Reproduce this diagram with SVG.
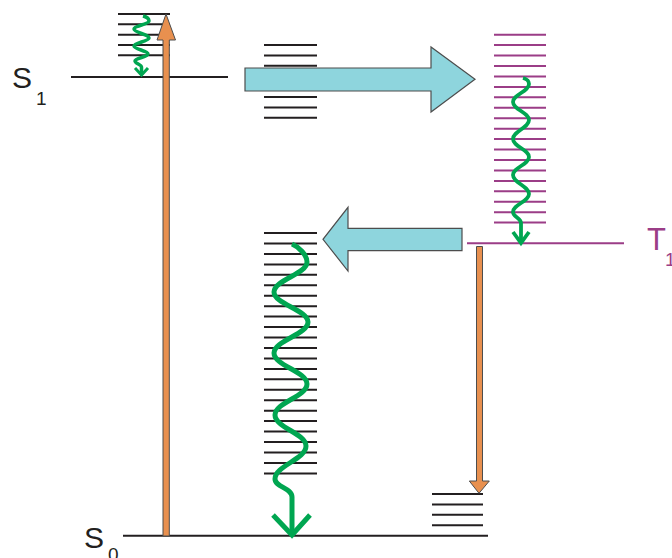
<svg xmlns="http://www.w3.org/2000/svg" width="672" height="558" viewBox="0 0 672 558">
<style>
.lvl{stroke:#231f20;stroke-width:2;fill:none}
.plvl{stroke:#9b3d87;stroke-width:2;fill:none}
.wave{stroke:#00a651;fill:none;stroke-linecap:butt;stroke-linejoin:miter}
.big{fill:#8ed5dd;stroke:#4d4d4d;stroke-width:1.2}
.orange{fill:#e8904f;stroke:#4d4d4d;stroke-width:1}
.lbl{font-family:"Liberation Sans",Arial,sans-serif;fill:#231f20}
.plbl{font-family:"Liberation Sans",Arial,sans-serif;fill:#9b3d87}
</style>
<rect width="672" height="558" fill="#ffffff"/>
<g id="S1-state">
<path class="lvl" d="M71,77H228"/>
<path class="lvl" d="M118,14H170M118,24.3H170M118,34.7H170M118,45H170M118,55.3H170"/>
<text class="lbl" x="12" y="88" font-size="30">S</text>
<text class="lbl" x="36" y="105" font-size="19">1</text>
</g>
<g id="T-levels-mid">
<path class="lvl" d="M264,45H317M264,55.4H317M264,65.8H317M264,76.2H317M264,86.6H317M264,97H317M264,107.4H317M264,117.8H317"/>
</g>
<g id="T1-state">
<path class="plvl" d="M494,34.7H546M494,45.1H546M494,55.6H546M494,66H546M494,76.5H546M494,86.9H546M494,97.3H546M494,107.8H546M494,118.2H546M494,128.7H546M494,139.1H546M494,149.5H546M494,160H546M494,170.4H546M494,180.9H546M494,191.3H546M494,201.7H546M494,212.2H546M494,222.6H546"/>
<path class="plvl" d="M467,243.3H624"/>
<text class="plbl" x="647" y="250" font-size="31">T</text>
<text class="plbl" x="665" y="266" font-size="19">1</text>
</g>
<g id="S0-vib-levels">
<path class="lvl" d="M264,233H317M264,243.5H317M264,253.9H317M264,264.4H317M264,274.8H317M264,285.3H317M264,295.7H317M264,306.2H317M264,316.6H317M264,327.1H317M264,337.5H317M264,348H317M264,358.4H317M264,368.9H317M264,379.3H317M264,389.8H317M264,400.2H317M264,410.7H317M264,421.1H317M264,431.6H317M264,442H317M264,452.5H317M264,462.9H317M264,473.4H317"/>
</g>
<g id="S0-low-levels">
<path class="lvl" d="M432,494H483M432,504.4H483M432,514.8H483M432,525.2H483"/>
</g>
<g id="S0-state">
<path class="lvl" d="M123,535.7H488"/>
<text class="lbl" x="84" y="548" font-size="30">S</text>
<text class="lbl" x="108" y="561" font-size="19">0</text>
</g>
<g id="connectors">
<polygon class="big" points="245,68 431,68 431,47 475,79.3 431,112 431,91 245,91"/>
<polygon class="big" points="462,228.3 348,228.3 348,207.3 323,239.3 348,271 348,250.7 462,250.7"/>
<path class="orange" d="M163,536V40H157L166,14L175.5,40H169.3V536Z"/>
<path class="orange" d="M476.5,246.5V481H469.3L479,493.3L489.3,481H482.5V246.5Z"/>
<path class="wave" stroke-width="3.5" d="M143,16C147,17 149,19 149,21C149,24.2 134,25.8 134,29C134,32.6 149,34.4 149,38C149,41.2 134,42.8 134,46C134,49.2 148,50.8 148,54C148,56.8 135,58.2 135,61C135,63.4 141.5,64.6 141.5,67L141.5,75"/>
<path class="wave" stroke-width="3" d="M135,68L141.5,75L148,68"/>
<path class="wave" stroke-width="3.8" d="M523,78C527,79 529,81 529,84C529,91.2 513,94.8 513,102C513,109.2 529,112.8 529,120C529,127.6 513,131.4 513,139C513,146.2 529,149.8 529,157C529,164.2 513,167.8 513,175C513,182.6 529,186.4 529,194C529,201.2 513,204.8 513,212C513,217 521,218 521,223L521,243"/>
<path class="wave" stroke-width="3.8" d="M513,232L521,243L529,232"/>
<path class="wave" stroke-width="5" d="M292,244C299,247 307,255 307,262C307,274 274,280 274,292C274,304 308,310 308,322C308,334.4 274,340.6 274,353C274,365.4 307,371.6 307,384C307,396.4 275,402.6 275,415C275,427.4 306,433.6 306,446C306,459.2 275,465.8 275,479C275,487 292,488 292,497L292,535"/>
<path class="wave" stroke-width="5" d="M273,515L292,535L310,515"/>
</g>
</svg>
